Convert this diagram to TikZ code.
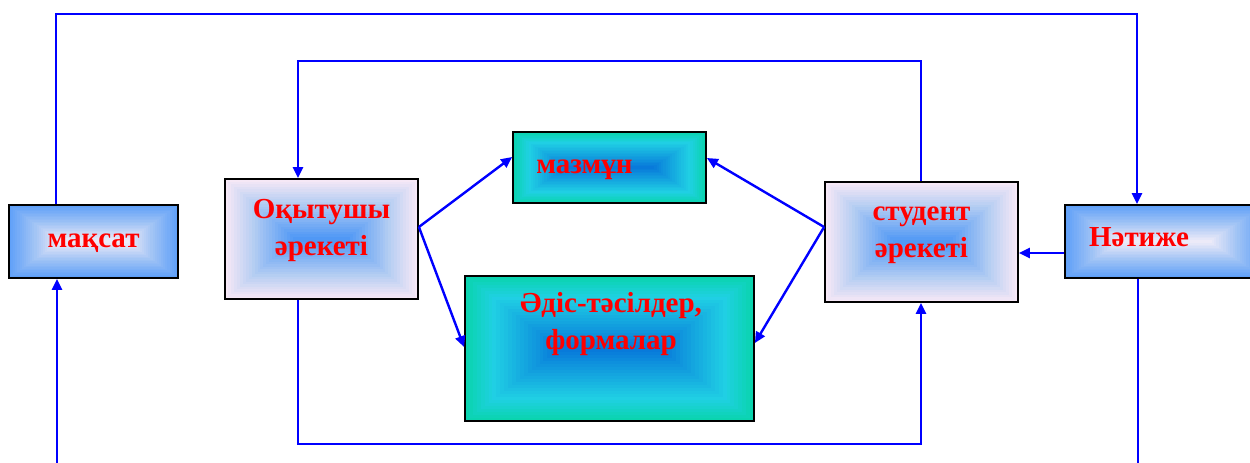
\documentclass[tikz,border=0pt]{standalone}
\usepackage{fontspec}
\setmainfont{Liberation Serif}
\usetikzlibrary{arrows.meta,calc}
\definecolor{conblue}{RGB}{0,0,255}
\definecolor{txtred}{RGB}{255,0,0}
\definecolor{bOut}{RGB}{95,160,248}
\definecolor{bMid}{RGB}{160,195,245}
\definecolor{bIn}{RGB}{236,234,248}
\definecolor{pOut}{RGB}{246,232,246}
\definecolor{pMid}{RGB}{180,205,242}
\definecolor{pIn}{RGB}{80,152,245}
\definecolor{tOut}{RGB}{10,212,175}
\definecolor{tMid}{RGB}{32,208,228}
\definecolor{tIn}{RGB}{8,122,218}
\newcommand\mygradfill[4]{%
  \pgfpointdiff{\pgfpointanchor{path picture bounding box}{south west}}{\pgfpointanchor{path picture bounding box}{north east}}%
  \pgfgetlastxy{\gw}{\gh}%
  \foreach \i in {0,...,23}{%
    \pgfmathsetmacro\dy{\i*\gh/48}%
    \pgfmathsetmacro\dx{\i*(0.3*\gw+0.7*\gh)/48}%
    \pgfmathsetmacro\f{\i/23}%
    \pgfmathtruncatemacro\pa{min(100,round(100*\f/#4))}%
    \pgfmathtruncatemacro\pb{max(0,round(100*(\f-#4)/(1-#4)))}%
    \ifdim\f pt<#4pt\relax\colorlet{gcol}{#2!\pa!#1}\else\colorlet{gcol}{#3!\pb!#2}\fi
    \fill[gcol] ([shift={(\dx pt,\dy pt)}]path picture bounding box.south west) rectangle ([shift={(-\dx pt,-\dy pt)}]path picture bounding box.north east);
  }}
\tikzset{
  box/.style={draw=black, line width=1.8pt, rectangle, inner sep=0pt},
  bluebox/.style={box, path picture={\mygradfill{bOut}{bMid}{bIn}{0.5}}},
  pinkbox/.style={box, path picture={\mygradfill{pOut}{pMid}{pIn}{0.4}}},
  tealbox/.style={box, path picture={\mygradfill{tOut}{tMid}{tIn}{0.3}}},
  txt/.style={text=txtred, font=\bfseries\fontsize{29}{37}\selectfont, align=center},
  conn/.style={draw=conblue, line width=2.4pt},
  arr/.style={conn, -{Triangle[length=11pt,width=10pt]}},
}
\begin{document}
\begin{tikzpicture}[x=1pt,y=-1pt]
\useasboundingbox (0,0) rectangle (1250,463);
\node[bluebox, minimum width=169pt, minimum height=73pt,
  label={[txt,name=tmaq,yshift=-2pt]center:мақсат}] (maq) at (93.5,241.5) {};
\node[pinkbox, minimum width=193pt, minimum height=120pt,
  label={[txt,name=toqy,yshift=9pt]center:Оқытушы\\әрекеті}] (oqy) at (321.5,239) {};
\node[tealbox, minimum width=193pt, minimum height=71pt,
  label={[txt,name=tmaz,xshift=-25pt,yshift=-2pt]center:мазмұн}] (maz) at (609.5,167.5) {};
\node[tealbox, minimum width=289pt, minimum height=145pt,
  label={[txt,name=tadis,xshift=1.5pt,yshift=24pt]center:Әдіс-тәсілдер,\\формалар}] (adis) at (609.5,348.5) {};
\node[pinkbox, minimum width=193pt, minimum height=120pt,
  label={[txt,name=tstud,yshift=7pt]center:студент\\әрекеті}] (stud) at (921.5,242) {};
\node[bluebox, minimum width=200pt, minimum height=73pt,
  label={[txt,name=tnat,xshift=-26pt,yshift=4pt]center:Нәтиже}] (nat) at (1165,241.5) {};
% outer loop
\coordinate (tl) at (56,14);
\coordinate (tr) at (1137,14);
\draw[arr] (maq.north -| tl) -- (tl) -- (tr) -- (tr |- nat.north);
\coordinate (ml) at (298,61);
\coordinate (mr) at (921,61);
\draw[arr] (stud.north -| mr) -- (mr) -- (ml) -- (ml |- oqy.north);
\coordinate (bl) at (298,444);
\coordinate (br) at (921,444);
\draw[arr] (oqy.south -| bl) -- (bl) -- (br) -- (br |- stud.south);
\coordinate (inq) at (57,470);
\draw[arr] (inq) -- (inq |- maq.south);
\coordinate (outn) at (1138,470);
\draw[conn] (nat.south -| outn) -- (outn);
\coordinate (ns) at (1065,253);
\draw[arr] (nat.west |- ns) -- (stud.east |- ns);
% diagonal arrows
\draw[arr] ([yshift=12pt]oqy.east) -- ([yshift=10.5pt]maz.west);
\draw[arr] ([yshift=12pt]oqy.east) -- ([yshift=1.5pt]adis.west);
\draw[arr] ([yshift=15pt]stud.west) -- ([yshift=9.5pt]maz.east);
\draw[arr] ([yshift=15pt]stud.west) -- ([yshift=5.5pt]adis.east);
\end{tikzpicture}
\end{document}
